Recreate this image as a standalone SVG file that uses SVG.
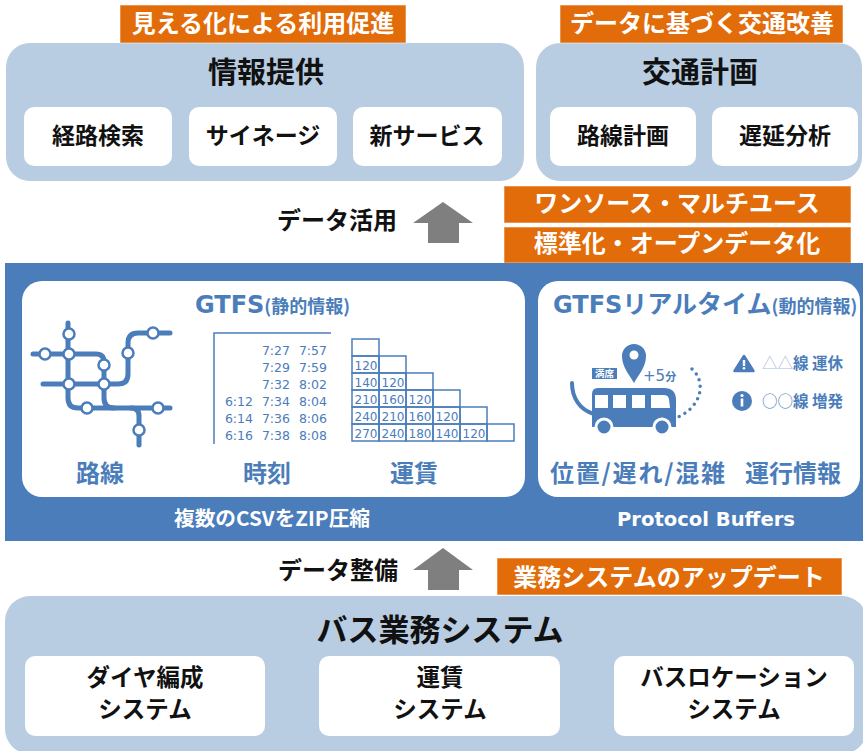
<svg xmlns="http://www.w3.org/2000/svg" width="863" height="751" viewBox="0 0 863 751">
  <style>
    .jp { font-family: "Noto Sans CJK JP", "Noto Sans", sans-serif; font-weight: 700; }
    .lat { font-family: "DejaVu Sans", "Noto Sans", sans-serif; }
    .panel { fill: #b9cde2; }
    .card { fill: #ffffff; }
    .tag { fill: #e36c0a; stroke: #ffffff; stroke-opacity: 0.55; stroke-width: 1; }
    .tagtxt { fill: #ffffff; font-size: 24px; }
    .dark { fill: #111111; }
    .blue { fill: #4a7dba; }
    .rail { fill: none; stroke: #4a7dba; stroke-width: 5; stroke-linecap: round; stroke-linejoin: round; }
    .stn { fill: #ffffff; stroke: #4a7dba; stroke-width: 2.5; }
    .grid { fill: none; stroke: #4a7dba; stroke-width: 1.5; }
    .tt { font-size: 12.5px; fill: #4a7dba; }
    .fare { font-size: 12px; fill: #4a7dba; }
    .arrow { fill: #7f7f7f; }
  </style>

  <rect width="863" height="751" fill="#ffffff"/>

  <!-- top row: information services -->
  <g id="info-panel">
    <rect class="panel" x="6" y="43" width="518" height="138" rx="24"/>
    <text class="jp dark" x="266" y="83" font-size="29" text-anchor="middle">情報提供</text>
  </g>
  <g id="info-tag">
    <rect class="tag" x="120" y="5" width="286" height="38"/>
    <text class="jp tagtxt" x="263" y="32" text-anchor="middle">見える化による利用促進</text>
  </g>
  <g id="route-search">
    <rect class="card" x="24" y="107" width="148" height="59" rx="10"/>
    <text class="jp dark" x="98" y="144" font-size="23" text-anchor="middle">経路検索</text>
  </g>
  <g id="signage">
    <rect class="card" x="189" y="107" width="148" height="59" rx="10"/>
    <text class="jp dark" x="263" y="144" font-size="23" text-anchor="middle">サイネージ</text>
  </g>
  <g id="new-services">
    <rect class="card" x="353" y="107" width="149" height="59" rx="10"/>
    <text class="jp dark" x="427" y="144" font-size="23" text-anchor="middle">新サービス</text>
  </g>

  <!-- top row: transport planning -->
  <g id="planning-panel">
    <rect class="panel" x="536" y="43" width="326" height="138" rx="24"/>
    <text class="jp dark" x="700" y="83" font-size="29" text-anchor="middle">交通計画</text>
  </g>
  <g id="planning-tag">
    <rect class="tag" x="560" y="5" width="283" height="38"/>
    <text class="jp tagtxt" x="702" y="32" text-anchor="middle">データに基づく交通改善</text>
  </g>
  <g id="route-planning">
    <rect class="card" x="550" y="107" width="146" height="59" rx="10"/>
    <text class="jp dark" x="623" y="144" font-size="23" text-anchor="middle">路線計画</text>
  </g>
  <g id="delay-analysis">
    <rect class="card" x="712" y="107" width="146" height="59" rx="10"/>
    <text class="jp dark" x="785" y="144" font-size="23" text-anchor="middle">遅延分析</text>
  </g>

  <!-- data use -->
  <g id="data-use-label">
    <text class="jp dark" x="337" y="229" font-size="24" text-anchor="middle">データ活用</text>
  </g>
  <g id="one-source-tag">
    <rect class="tag" x="504" y="186" width="347" height="37"/>
    <text class="jp tagtxt" x="677" y="212" text-anchor="middle">ワンソース・マルチユース</text>
  </g>
  <g id="open-data-tag">
    <rect class="tag" x="504" y="227" width="347" height="36"/>
    <text class="jp tagtxt" x="677" y="252" text-anchor="middle">標準化・オープンデータ化</text>
  </g>

  <!-- GTFS band -->
  <g id="gtfs-band">
    <rect x="5" y="263" width="858" height="278" fill="#4a7dba"/>
    <text class="jp" x="272" y="526" font-size="20" fill="#ffffff" text-anchor="middle" textLength="196" lengthAdjust="spacingAndGlyphs">複数のCSVをZIP圧縮</text>
    <text class="lat" x="706" y="526" font-size="19.5" font-weight="700" fill="#ffffff" text-anchor="middle" textLength="178" lengthAdjust="spacingAndGlyphs">Protocol Buffers</text>
  </g>

  <!-- static GTFS -->
  <g id="gtfs-static">
    <rect class="card" x="22" y="281" width="503" height="216" rx="20"/>
    <text x="195" y="313" class="blue"><tspan class="lat" font-size="24" font-weight="700">GTFS</tspan><tspan class="jp" font-size="18">(静的情報)</tspan></text>

    <!-- route network -->
    <path class="rail" d="M68,323 V398 Q68,408 78,408 H170"/>
    <path class="rail" d="M33,354 H96 Q104,354 104,362 V398 Q104,408 114,408"/>
    <path class="rail" d="M43,384 H118 Q128,384 128,374 V343 Q128,333 138,333 H170"/>
    <path class="rail" d="M131,408 Q139,408 139,416 V445"/>
    <circle class="stn" cx="69" cy="334" r="5.5"/>
    <circle class="stn" cx="69" cy="354" r="5.5"/>
    <circle class="stn" cx="45" cy="354" r="5.5"/>
    <circle class="stn" cx="69" cy="384" r="5.5"/>
    <circle class="stn" cx="104" cy="365" r="5.5"/>
    <circle class="stn" cx="104" cy="384" r="5.5"/>
    <circle class="stn" cx="128" cy="353" r="5.5"/>
    <circle class="stn" cx="153" cy="333" r="5.5"/>
    <circle class="stn" cx="87" cy="408" r="5.5"/>
    <circle class="stn" cx="158" cy="408" r="5.5"/>
    <circle class="stn" cx="139" cy="430" r="5.5"/>

    <!-- timetable -->
    <path class="grid" d="M214,444 V333 H331" stroke-width="2"/>
    <g class="lat tt" text-anchor="end">
      <text x="290" y="355">7:27</text><text x="327" y="355">7:57</text>
      <text x="290" y="372">7:29</text><text x="327" y="372">7:59</text>
      <text x="290" y="389">7:32</text><text x="327" y="389">8:02</text>
      <text x="253" y="406">6:12</text><text x="290" y="406">7:34</text><text x="327" y="406">8:04</text>
      <text x="253" y="423">6:14</text><text x="290" y="423">7:36</text><text x="327" y="423">8:06</text>
      <text x="253" y="440">6:16</text><text x="290" y="440">7:38</text><text x="327" y="440">8:08</text>
    </g>

    <!-- fare matrix -->
    <g class="grid">
      <rect x="352" y="339" width="27" height="17"/>
      <rect x="352" y="356" width="27" height="17"/><rect x="379" y="356" width="27" height="17"/>
      <rect x="352" y="373" width="27" height="17"/><rect x="379" y="373" width="27" height="17"/><rect x="406" y="373" width="27" height="17"/>
      <rect x="352" y="390" width="27" height="17"/><rect x="379" y="390" width="27" height="17"/><rect x="406" y="390" width="27" height="17"/><rect x="433" y="390" width="27" height="17"/>
      <rect x="352" y="407" width="27" height="17"/><rect x="379" y="407" width="27" height="17"/><rect x="406" y="407" width="27" height="17"/><rect x="433" y="407" width="27" height="17"/><rect x="460" y="407" width="27" height="17"/>
      <rect x="352" y="424" width="27" height="17"/><rect x="379" y="424" width="27" height="17"/><rect x="406" y="424" width="27" height="17"/><rect x="433" y="424" width="27" height="17"/><rect x="460" y="424" width="27" height="17"/><rect x="487" y="424" width="27" height="17"/>
    </g>
    <g class="lat fare" text-anchor="middle">
      <text x="366" y="370">120</text>
      <text x="366" y="387">140</text><text x="393" y="387">120</text>
      <text x="366" y="404">210</text><text x="393" y="404">160</text><text x="420" y="404">120</text>
      <text x="366" y="421">240</text><text x="393" y="421">210</text><text x="420" y="421">160</text><text x="447" y="421">120</text>
      <text x="366" y="438">270</text><text x="393" y="438">240</text><text x="420" y="438">180</text><text x="447" y="438">140</text><text x="474" y="438">120</text>
    </g>

    <text class="jp blue" x="100" y="482" font-size="24" text-anchor="middle">路線</text>
    <text class="jp blue" x="267" y="482" font-size="24" text-anchor="middle">時刻</text>
    <text class="jp blue" x="414" y="482" font-size="24" text-anchor="middle">運賃</text>
  </g>

  <!-- realtime GTFS -->
  <g id="gtfs-realtime">
    <rect class="card" x="538" y="281" width="322" height="216" rx="20"/>
    <text x="553" y="313" class="blue"><tspan class="lat" font-size="24" font-weight="700">GTFS</tspan><tspan class="jp" font-size="25">リアルタイム</tspan><tspan class="jp" font-size="18">(動的情報)</tspan></text>

    <!-- bus with location pin -->
    <path d="M572,383 C572,398 580,410 594,414" fill="none" stroke="#4a7dba" stroke-width="4" stroke-linecap="round"/>
    <path d="M598,388 H664 Q676,388 676,400 V427 H592 V394 Q592,388 598,388 Z" fill="#4a7dba"/>
    <g fill="#ffffff">
      <rect x="595" y="395" width="13" height="13"/>
      <rect x="613" y="395" width="13" height="13"/>
      <rect x="632" y="395" width="13" height="13"/>
      <path d="M651,395 H664 Q668,395 669,399 L670,408 H651 Z"/>
    </g>
    <circle cx="604" cy="427" r="8" fill="#4a7dba" stroke="#ffffff" stroke-width="3"/>
    <circle cx="662" cy="427" r="8" fill="#4a7dba" stroke="#ffffff" stroke-width="3"/>
    <path d="M692,369 C705,380 704,405 678,417" fill="none" stroke="#4a7dba" stroke-width="3.5" stroke-linecap="round" stroke-dasharray="0 6.5"/>
    <path d="M634,383 C629,374 622,367 622,356 A12,12 0 1,1 646,356 C646,367 639,374 634,383 Z" fill="#4a7dba"/>
    <circle cx="634" cy="355" r="4.5" fill="#ffffff"/>
    <rect x="592" y="368" width="25" height="11" fill="#4a7dba"/>
    <text class="jp" x="604.5" y="377" font-size="9.5" fill="#ffffff" text-anchor="middle">満席</text>
    <text x="643" y="381" class="blue"><tspan class="lat" font-size="15">+5</tspan><tspan class="jp" font-size="11" font-weight="400">分</tspan></text>

    <!-- service alerts -->
    <path d="M744,356 L753.5,371 H734.5 Z" fill="#4a7dba" stroke="#4a7dba" stroke-width="2.5" stroke-linejoin="round"/>
    <rect x="742.8" y="360" width="2.4" height="6" fill="#ffffff"/>
    <circle cx="744" cy="368.3" r="1.3" fill="#ffffff"/>
    <text x="762" y="369" font-size="15.5" class="jp blue"><tspan fill="#a9c0df" font-weight="400">△△</tspan>線 運休</text>
    <circle cx="742" cy="401" r="10" fill="#4a7dba"/>
    <circle cx="742" cy="395.5" r="1.6" fill="#ffffff"/>
    <rect x="740.7" y="398.5" width="2.6" height="8" fill="#ffffff"/>
    <text x="762" y="407" font-size="15.5" class="jp blue"><tspan font-weight="400">○○</tspan>線 増発</text>

    <text class="jp blue" x="550" y="482" font-size="24" textLength="175" lengthAdjust="spacing">位置/遅れ/混雑</text>
    <text class="jp blue" x="745" y="482" font-size="24">運行情報</text>
  </g>

  <!-- data preparation -->
  <g id="data-prep-label">
    <text class="jp dark" x="338" y="579" font-size="24" text-anchor="middle">データ整備</text>
  </g>
  <g id="update-tag">
    <rect class="tag" x="497" y="558" width="345" height="37"/>
    <text class="jp tagtxt" x="669" y="586" text-anchor="middle">業務システムのアップデート</text>
  </g>

  <!-- bus business systems -->
  <g id="bus-systems">
    <rect class="panel" x="5" y="596" width="862" height="158" rx="25"/>
    <text class="jp dark" x="440" y="641" font-size="31" text-anchor="middle">バス業務システム</text>
  </g>
  <g id="schedule-system">
    <rect class="card" x="25" y="656" width="240" height="80" rx="10"/>
    <text class="jp dark" x="145" y="686" font-size="23.5" text-anchor="middle">ダイヤ編成</text>
    <text class="jp dark" x="145" y="718" font-size="23.5" text-anchor="middle">システム</text>
  </g>
  <g id="fare-system">
    <rect class="card" x="319" y="656" width="241" height="80" rx="10"/>
    <text class="jp dark" x="440" y="686" font-size="23.5" text-anchor="middle">運賃</text>
    <text class="jp dark" x="440" y="718" font-size="23.5" text-anchor="middle">システム</text>
  </g>
  <g id="bus-location-system">
    <rect class="card" x="614" y="656" width="240" height="80" rx="10"/>
    <text class="jp dark" x="734" y="686" font-size="23.5" text-anchor="middle">バスロケーション</text>
    <text class="jp dark" x="734" y="718" font-size="23.5" text-anchor="middle">システム</text>
  </g>

  <!-- flow arrows -->
  <g id="connectors">
    <path class="arrow" d="M443,202 L473,223 H459 V243 H428 V223 H413 Z"/>
    <path class="arrow" d="M443,548 L473,570 H459 V590 H428 V570 H413 Z"/>
  </g>
</svg>
